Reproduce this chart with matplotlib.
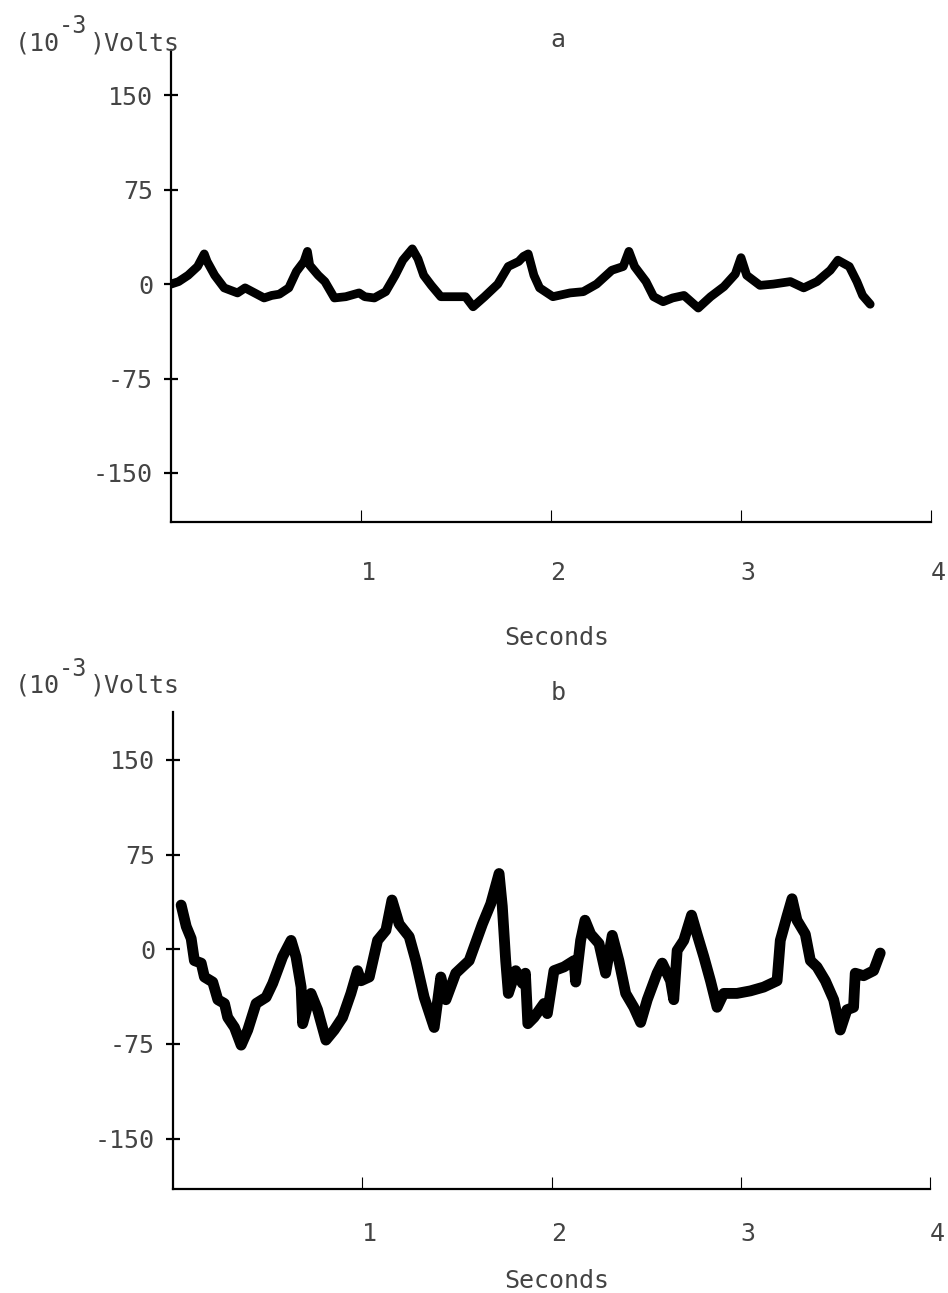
import matplotlib
matplotlib.use("Agg")
import matplotlib.pyplot as plt
import matplotlib.transforms as mtransforms

# trace a (seconds, 10^-3 volts)
a_t = [0.00, 0.04, 0.09, 0.14, 0.175, 0.19, 0.23, 0.28, 0.35, 0.39,
       0.44, 0.49, 0.53, 0.57, 0.62, 0.66, 0.70, 0.718, 0.73, 0.775,
       0.81, 0.86, 0.92, 0.99, 1.02, 1.07, 1.13, 1.18, 1.22, 1.27,
       1.30, 1.33, 1.37, 1.42, 1.48, 1.55, 1.59, 1.65, 1.72, 1.775,
       1.83, 1.855, 1.88, 1.91, 1.94, 2.01, 2.10, 2.17, 2.24, 2.32,
       2.38, 2.41, 2.44, 2.50, 2.54, 2.59, 2.64, 2.70, 2.775, 2.84,
       2.91, 2.97, 3.00, 3.03, 3.10, 3.17, 3.26, 3.33, 3.40, 3.47,
       3.51, 3.57, 3.61, 3.64, 3.68]
a_v = [0, 2, 7, 14, 24, 18, 7, -3, -7, -3,
       -7, -11, -9, -8, -3, 10, 18, 26, 15, 7,
       2, -11, -10, -7, -10, -11, -6, 7, 19, 28,
       20, 7, -1, -10, -10, -10, -18, -10, 0, 14,
       18, 22, 24, 7, -3, -10, -7, -6, 0, 11,
       14, 26, 14, 2, -10, -14, -11, -9, -19, -10,
       -2, 8, 21, 7, -1, 0, 2, -3, 2, 11,
       19, 14, 2, -9, -16]

# trace b
b_t = [0.043, 0.07, 0.096, 0.113, 0.149, 0.166, 0.21, 0.237, 0.272, 0.289,
       0.325, 0.36, 0.395, 0.439, 0.492, 0.527, 0.579, 0.624, 0.65, 0.677,
       0.685, 0.729, 0.764, 0.808, 0.852, 0.896, 0.94, 0.975, 0.993, 1.037,
       1.081, 1.125, 1.157, 1.195, 1.248, 1.283, 1.327, 1.38, 1.415, 1.442,
       1.494, 1.565, 1.635, 1.679, 1.723, 1.74, 1.758, 1.772, 1.811, 1.846,
       1.862, 1.875, 1.908, 1.96, 1.978, 2.013, 2.066, 2.119, 2.128, 2.154,
       2.177, 2.207, 2.251, 2.286, 2.321, 2.356, 2.392, 2.435, 2.471, 2.506,
       2.558, 2.585, 2.629, 2.646, 2.664, 2.699, 2.74, 2.769, 2.805, 2.84,
       2.875, 2.91, 2.98, 3.051, 3.121, 3.192, 3.209, 3.244, 3.271, 3.297,
       3.341, 3.368, 3.403, 3.447, 3.491, 3.526, 3.561, 3.596, 3.605, 3.649,
       3.702, 3.737]
b_v = [35, 18, 8.5, -9, -11, -22, -26, -40, -43, -54,
       -62, -76, -64, -43, -38, -27, -6, 7, -6, -30,
       -59, -35, -48, -72, -64, -54, -35, -17, -25, -22,
       7, 15, 39, 20, 10, -9, -38, -62, -22, -40,
       -19, -9, 20, 36, 60, 34, -9, -35, -17, -27,
       -19, -59, -54, -43, -51, -17, -14, -9, -26, 7,
       23, 12, 4.5, -19, 11, -9, -35, -46, -58, -40,
       -19, -11, -25, -40, -1, 7, 27, 12, -6, -25,
       -46, -35, -35, -33, -30, -25, 7, 26, 40, 23,
       12, -9, -14, -25, -40, -64, -48, -46, -19, -21,
       -17, -3]

y_ticks = [-150, -75, 0, 75, 150]
x_ticks = [1, 2, 3, 4]

TXT = "#444444"
plt.rcParams["font.family"] = ["DejaVu Sans Mono"]
plt.rcParams["axes.unicode_minus"] = False
plt.rcParams["font.size"] = 18

W, H = 948, 1293
fig = plt.figure(figsize=(W / 100, H / 100), dpi=100)


def px(x, y):
    return x / W, 1 - y / H


def unit_label(y):
    # (10^-3)Volts, built from pieces so the exponent keeps the typed look
    fig.text(*px(15, y), "(10", ha="left", va="baseline", color=TXT)
    fig.text(*px(59, y - 17), "-3", ha="left", va="baseline", color=TXT,
             fontsize=17)
    fig.text(*px(90, y), ")Volts", ha="left", va="baseline", color=TXT)


def panel(rect, t, v, ylim, lw, xpad, tag, tag_y, unit_y, sec_y):
    ax = fig.add_axes(rect)
    ax.plot(t, v, color="black", lw=lw, solid_joinstyle="round",
            solid_capstyle="round")
    ax.set_xlim(0, 4)
    ax.set_ylim(*ylim)
    for s in ["top", "right"]:
        ax.spines[s].set_visible(False)
    for s in ["left", "bottom"]:
        ax.spines[s].set_linewidth(1.6)
    ax.set_yticks(y_ticks)
    ax.set_xticks(x_ticks)
    ax.tick_params(axis="y", direction="inout", length=10, width=1.6,
                   pad=8, labelcolor=TXT)
    ax.tick_params(axis="x", direction="in", length=8.5, width=0.8,
                   pad=xpad, labelcolor=TXT)
    off = mtransforms.ScaledTranslation(7 / 100, 0, fig.dpi_scale_trans)
    for lab in ax.get_xticklabels():
        lab.set_transform(lab.get_transform() + off)

    unit_label(unit_y)
    fig.text(*px(558, tag_y), tag, ha="center", va="baseline", color=TXT)
    fig.text(*px(557, sec_y), "Seconds", ha="center", va="baseline",
             color=TXT)
    return ax


panel([171 / W, 1 - 522 / H, 760 / W, 472 / H], a_t, a_v, (-189, 186),
      6.3, 28, "a", 47, 50, 645)
panel([173 / W, 1 - 1189 / H, 757 / W, 477 / H], b_t, b_v, (-190, 188),
      7.8, 24, "b", 700, 693, 1288)

fig.savefig("out.png", dpi=100)
